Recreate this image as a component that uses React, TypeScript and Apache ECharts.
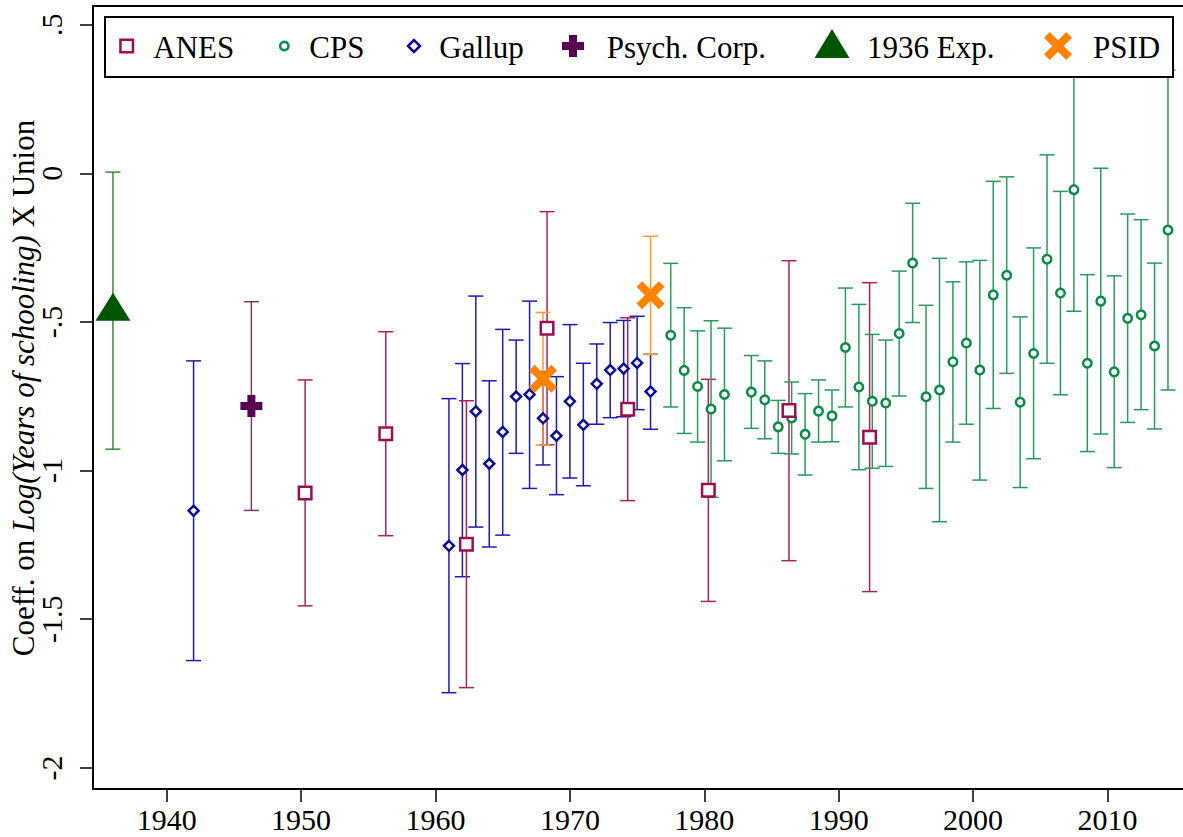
import React, { useEffect, useRef } from "react";
import * as echarts from "echarts";

// ---------- data ----------
const gallupYears = [1942, 1961, 1962, 1963, 1964, 1965, 1966, 1967, 1968, 1969, 1970, 1971, 1972, 1973, 1974, 1975, 1976];
const gallupCoef = [-1.135, -1.253, -0.998, -0.801, -0.977, -0.870, -0.751, -0.744, -0.824, -0.883, -0.767, -0.846, -0.708, -0.662, -0.657, -0.638, -0.734];
const gallupLo = [-1.639, -1.747, -1.357, -1.190, -1.257, -1.217, -0.942, -1.060, -0.981, -1.081, -1.025, -1.051, -0.844, -0.822, -0.819, -0.795, -0.861];
const gallupHi = [-0.631, -0.758, -0.640, -0.413, -0.698, -0.525, -0.561, -0.430, -0.667, -0.684, -0.509, -0.639, -0.574, -0.502, -0.495, -0.481, -0.609];

const anesYears = [1950.3, 1956.3, 1962.3, 1968.3, 1974.3, 1980.3, 1986.3, 1992.3];
const anesCoef = [-1.075, -0.876, -1.248, -0.521, -0.794, -1.066, -0.798, -0.888];
const anesLo = [-1.455, -1.219, -1.730, -0.913, -1.101, -1.440, -1.303, -1.407];
const anesHi = [-0.695, -0.533, -0.765, -0.129, -0.486, -0.693, -0.294, -0.368];

const cpsYears = [
  1977.5, 1978.5, 1979.5, 1980.5, 1981.5,
  1983.5, 1984.5, 1985.5, 1986.5, 1987.5, 1988.5, 1989.5, 1990.5, 1991.5, 1992.5, 1993.5, 1994.5,
  1995.5, 1996.5, 1997.5, 1998.5, 1999.5, 2000.5, 2001.5, 2002.5, 2003.5, 2004.5,
  2005.5, 2006.5, 2007.5, 2008.5, 2009.5, 2010.5, 2011.5, 2012.5, 2013.5, 2014.5,
];
const cpsCoef = [
  -0.545, -0.663, -0.717, -0.793, -0.744,
  -0.736, -0.762, -0.853, -0.823, -0.878, -0.800, -0.816, -0.586, -0.719, -0.767, -0.773, -0.539,
  -0.302, -0.752, -0.729, -0.634, -0.571, -0.662, -0.409, -0.343, -0.770, -0.606,
  -0.289, -0.403, -0.055, -0.639, -0.430, -0.668, -0.488, -0.476, -0.581, -0.191,
];
const cpsLo = [
  -0.786, -0.875, -0.904, -1.090, -0.967,
  -0.858, -0.893, -0.942, -0.944, -1.015, -0.904, -0.903, -0.786, -0.997, -0.992, -0.986, -0.749,
  -0.502, -1.060, -1.172, -0.904, -0.844, -1.032, -0.791, -0.673, -1.057, -0.960,
  -0.639, -0.745, -0.464, -0.936, -0.877, -0.990, -0.838, -0.795, -0.860, -0.729,
];
const cpsHi = [
  -0.303, -0.452, -0.530, -0.496, -0.521,
  -0.613, -0.631, -0.764, -0.702, -0.741, -0.695, -0.729, -0.386, -0.441, -0.542, -0.561, -0.329,
  -0.101, -0.444, -0.286, -0.365, -0.298, -0.293, -0.027, -0.012, -0.483, -0.251,
  0.062, -0.061, 0.354, -0.341, 0.017, -0.345, -0.137, -0.156, -0.302, 0.347,
];

const psychYears = [1946.3];
const psychCoef = [-0.783];
const psychLo = [-1.134];
const psychHi = [-0.432];

const expYears = [1936];
const expCoef = [-0.462];
const expLo = [-0.928];
const expHi = [0.004];

const psidYears = [1968, 1976];
const psidCoef = [-0.691, -0.41];
const psidLo = [-0.914, -0.609];
const psidHi = [-0.468, -0.212];

const xTicks = [1940, 1950, 1960, 1970, 1980, 1990, 2000, 2010];
const yTicks = [-2, -1.5, -1, -0.5, 0, 0.5];

const legendNames = ["ANES", "CPS", "Gallup", "Psych. Corp.", "1936 Exp.", "PSID"];

// ---------- styles ----------
const FONT = '"Liberation Serif", "Times New Roman", Times, serif';
const C = {
  anes: { m: "#9e0e4e", ci: "#a8245f" },
  cps: { m: "#0a8c46", ci: "#2a9a5c" },
  gallup: { m: "#0c0c9c", ci: "#1c1cb0" },
  psych: { m: "#5a0052", ci: "#7a3a76" },
  exp: { m: "#005600", ci: "#3d8a3d" },
  psid: { m: "#ff8200", ci: "#ff9a30" },
};

const PLUS = "path://M7,0 H15 V7 H22 V15 H15 V22 H7 V15 H0 V7 H7 Z";
const CROSS = "path://M0,5.66 L5.66,0 L14,8.34 L22.34,0 L28,5.66 L19.66,14 L28,22.34 L22.34,28 L14,19.66 L5.66,28 L0,22.34 L8.34,14 Z";

function zip3(xs: number[], lo: number[], hi: number[]) {
  return xs.map((x, i) => [x, lo[i], hi[i]]);
}
function zip2(xs: number[], ys: number[]) {
  return xs.map((x, i) => [x, ys[i]]);
}

function ciSeries(name: string, data: number[][], color: string) {
  return {
    type: "custom",
    name: name + " CI",
    data,
    z: 2,
    clip: false,
    encode: { x: 0, y: [1, 2] },
    renderItem: (params: any, api: any) => {
      const x = api.value(0);
      const lo = api.value(1);
      const hi = api.value(2);
      const t = api.coord([x, hi]);
      const b = api.coord([x, lo]);
      const hw = 7.5;
      const st = { stroke: color, lineWidth: 1.5 };
      return {
        type: "group",
        children: [
          { type: "line", shape: { x1: t[0], y1: t[1], x2: b[0], y2: b[1] }, style: st },
          { type: "line", shape: { x1: t[0] - hw, y1: t[1], x2: t[0] + hw, y2: t[1] }, style: st },
          { type: "line", shape: { x1: b[0] - hw, y1: b[1], x2: b[0] + hw, y2: b[1] }, style: st },
        ],
      };
    },
  };
}

function legendGraphic() {
  const cy = 46;
  const txt = (x: number, s: string) => ({
    type: "text",
    z: 101,
    style: { text: s, x, y: cy + 1, font: `31px ${FONT}`, fill: "#000", verticalAlign: "middle", align: "left" },
  });
  return [
    {
      type: "rect",
      z: 100,
      shape: { x: 105, y: 17, width: 1068, height: 60 },
      style: { fill: "#fff", stroke: "#000", lineWidth: 2 },
    },
    { type: "rect", z: 101, shape: { x: 126.7 - 6.25, y: cy - 6.25, width: 12.5, height: 12.5 }, style: { fill: "#fff", stroke: C.anes.m, lineWidth: 2.5 } },
    txt(153.3, legendNames[0]),
    { type: "circle", z: 101, shape: { cx: 284.3, cy, r: 4.2 }, style: { fill: "#fff", stroke: C.cps.m, lineWidth: 2.5 } },
    txt(309.3, legendNames[1]),
    { type: "polygon", z: 101, shape: { points: [[414 - 6, cy], [414, cy - 6], [414 + 6, cy], [414, cy + 6]] }, style: { fill: "#fff", stroke: C.gallup.m, lineWidth: 2.5 } },
    txt(439.3, legendNames[2]),
    {
      type: "polygon", z: 101,
      shape: { points: [[569, cy - 11], [577, cy - 11], [577, cy - 4], [584, cy - 4], [584, cy + 4], [577, cy + 4], [577, cy + 11], [569, cy + 11], [569, cy + 4], [562, cy + 4], [562, cy - 4], [569, cy - 4]] },
      style: { fill: C.psych.m },
    },
    txt(606.7, legendNames[3]),
    { type: "polygon", z: 101, shape: { points: [[832, 29], [849.5, 58], [814.5, 58]] }, style: { fill: C.exp.m } },
    txt(867, legendNames[4]),
    {
      type: "polygon", z: 101,
      shape: {
        points: [[0, 5.66], [5.66, 0], [14, 8.34], [22.34, 0], [28, 5.66], [19.66, 14], [28, 22.34], [22.34, 28], [14, 19.66], [5.66, 28], [0, 22.34], [8.34, 14]].map((p) => [p[0] + 1058 - 14, p[1] + cy - 14]),
      },
      style: { fill: C.psid.m },
    },
    txt(1093, legendNames[5]),
  ];
}

function fmtY(v: number) {
  if (v === 0) return "0";
  const s = String(Math.abs(v)).replace(/^0/, "");
  return (v < 0 ? "-" : "") + s;
}

export default function App() {
  const ref = useRef<HTMLDivElement>(null);
  useEffect(() => {
    if (!ref.current) return;
    const chart = echarts.init(ref.current, undefined, { renderer: "svg" });
    const option: any = {
      animation: false,
      backgroundColor: "#fff",
      grid: {
        left: 93,
        top: 6,
        width: 1095,
        height: 783,
        show: true,
        borderColor: "#000",
        borderWidth: 2,
        backgroundColor: "transparent",
        containLabel: false,
        outerBoundsMode: "none",
      },
      xAxis: {
        type: "value",
        min: 1934.516,
        max: 2015.99,
        axisLine: { show: true, onZero: false, lineStyle: { color: "#000", width: 2 } },
        axisTick: { show: true, customValues: xTicks, length: 13, lineStyle: { color: "#000", width: 1.5 } },
        axisLabel: {
          customValues: xTicks,
          margin: 15,
          fontFamily: FONT,
          fontSize: 30,
          color: "#000",
          formatter: (v: number) => String(v),
        },
        splitLine: { show: false },
      },
      yAxis: {
        type: "value",
        min: -2.071,
        max: 0.5627,
        name: "Coeff. on {i|Log(Years of schooling)} X Union",
        nameLocation: "middle",
        nameGap: 54,
        nameRotate: 90,
        nameMoveOverlap: false,
        nameTextStyle: {
          fontFamily: FONT,
          fontSize: 31,
          color: "#000",
          padding: [0, 0, 0, 19],
          rich: { i: { fontFamily: FONT, fontSize: 31, fontStyle: "italic", color: "#000" } },
        },
        axisLine: { show: true, onZero: false, lineStyle: { color: "#000", width: 2 } },
        axisTick: { show: true, customValues: yTicks, length: 13, lineStyle: { color: "#000", width: 1.5 } },
        axisLabel: {
          customValues: yTicks,
          rotate: 90,
          margin: 27,
          fontFamily: FONT,
          fontSize: 30,
          color: "#000",
          formatter: (v: number) => fmtY(v),
        },
        splitLine: { show: false },
      },
      graphic: legendGraphic(),
      series: [
        ciSeries("1936 Exp.", zip3(expYears, expLo, expHi), C.exp.ci),
        ciSeries("Gallup", zip3(gallupYears, gallupLo, gallupHi), C.gallup.ci),
        ciSeries("Psych. Corp.", zip3(psychYears, psychLo, psychHi), C.psych.ci),
        ciSeries("ANES", zip3(anesYears, anesLo, anesHi), C.anes.ci),
        ciSeries("PSID", zip3(psidYears, psidLo, psidHi), C.psid.ci),
        ciSeries("CPS", zip3(cpsYears, cpsLo, cpsHi), C.cps.ci),
        {
          type: "scatter", name: "Gallup", z: 3, data: zip2(gallupYears, gallupCoef),
          symbol: "diamond", symbolSize: 10,
          itemStyle: { color: "#fff", borderColor: C.gallup.m, borderWidth: 2.5, opacity: 1 },
        },
        {
          type: "scatter", name: "CPS", z: 3, data: zip2(cpsYears, cpsCoef),
          symbol: "circle", symbolSize: 8.5,
          itemStyle: { color: "#fff", borderColor: C.cps.m, borderWidth: 2.5, opacity: 1 },
        },
        {
          type: "scatter", name: "ANES", z: 4, data: zip2(anesYears, anesCoef),
          symbol: "rect", symbolSize: 12.5,
          itemStyle: { color: "#fff", borderColor: C.anes.m, borderWidth: 2.5, opacity: 1 },
        },
        {
          type: "scatter", name: "Psych. Corp.", z: 4, data: zip2(psychYears, psychCoef),
          symbol: PLUS, symbolSize: [22, 22],
          itemStyle: { color: C.psych.m, opacity: 1 },
        },
        {
          type: "scatter", name: "1936 Exp.", z: 4, data: zip2(expYears, expCoef),
          symbol: "triangle", symbolSize: [35, 28], symbolOffset: [0, -4],
          itemStyle: { color: C.exp.m, opacity: 1 },
        },
        {
          type: "scatter", name: "PSID", z: 5, data: zip2(psidYears, psidCoef),
          symbol: CROSS, symbolSize: [28, 28],
          itemStyle: { color: C.psid.m, opacity: 1 },
        },
      ],
    };
    chart.setOption(option);
    return () => chart.dispose();
  }, []);
  return (
    <div
      ref={ref}
      style={{ position: "absolute", left: 0, top: 0, width: 1183, height: 837, background: "#fff" }}
    />
  );
}
